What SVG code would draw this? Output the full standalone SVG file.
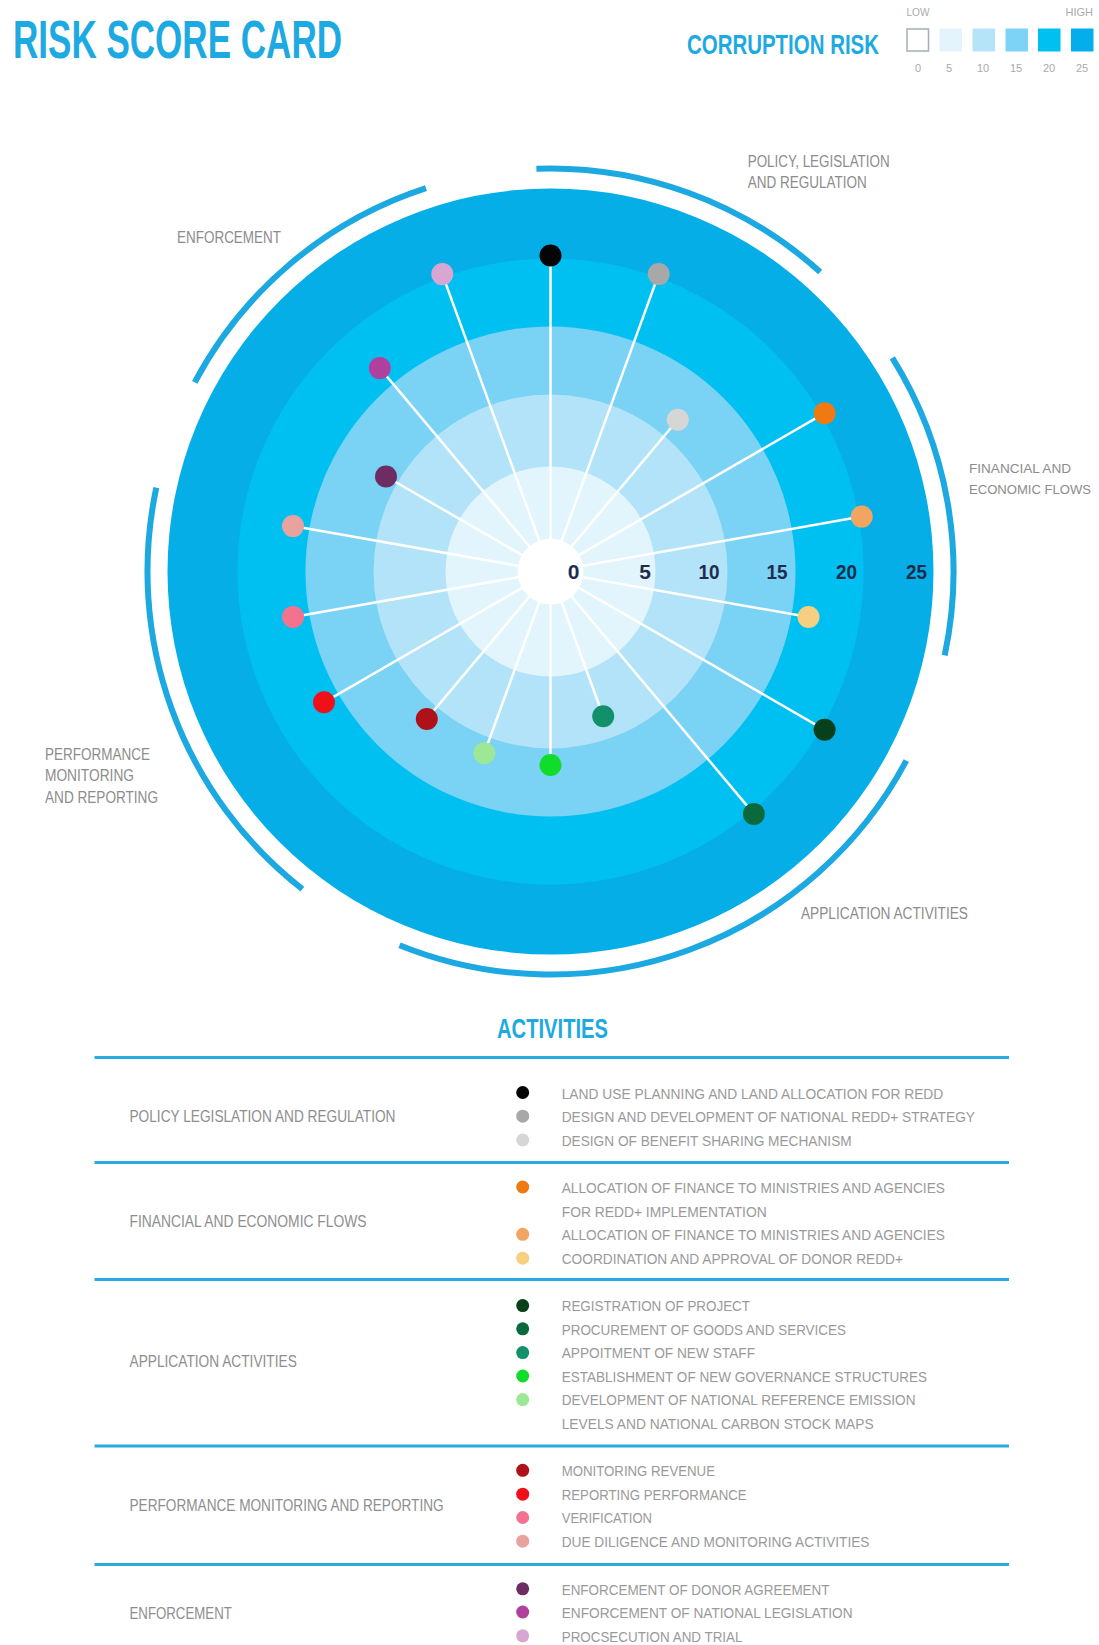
<svg xmlns="http://www.w3.org/2000/svg" width="1099" height="1645" viewBox="0 0 1099 1645">
<style>
.hd{font-family:"Liberation Sans Narrow","Liberation Sans",sans-serif;font-weight:bold;fill:#1DA9E1}
.cat{font-family:"Liberation Sans Narrow","Liberation Sans",sans-serif;font-size:16px;fill:#8C8C8C}
.cat2{font-family:"Liberation Sans Narrow","Liberation Sans",sans-serif;font-size:13.5px;fill:#8C8C8C}
.ax{font-family:"Liberation Sans Narrow","Liberation Sans",sans-serif;font-weight:bold;font-size:21px;fill:#1E2D4D;text-anchor:middle}
.lg{font-family:"Liberation Sans Narrow","Liberation Sans",sans-serif;font-size:11px;fill:#AAAAAA}
.row{font-family:"Liberation Sans Narrow","Liberation Sans",sans-serif;font-size:17px;fill:#8E8E8E}
.it{font-family:"Liberation Sans Narrow","Liberation Sans",sans-serif;font-size:15.5px;fill:#9A9A9A}
.arc{fill:none;stroke:#1CA8E0;stroke-width:6}
.spoke{stroke:#FFFFFF;stroke-width:2.5}
.rule{stroke:#29ABE2;stroke-width:3}
</style>
<rect width="1099" height="1645" fill="#FFFFFF"/>

<g id="header">
<text class="hd" x="13" y="58" font-size="53" textLength="329" lengthAdjust="spacingAndGlyphs">RISK SCORE CARD</text>
<text class="hd" x="687" y="53.5" font-size="28" textLength="192" lengthAdjust="spacingAndGlyphs">CORRUPTION RISK</text>
</g>

<g id="legend">
<text class="lg" x="906.5" y="16" textLength="23" lengthAdjust="spacingAndGlyphs">LOW</text>
<text class="lg" x="1093" y="16" text-anchor="end">HIGH</text>
<rect x="907" y="29" width="21.5" height="22" fill="#FFFFFF" stroke="#A5AEB5" stroke-width="1.5"/>
<rect x="939.5" y="28.5" width="22.5" height="23" fill="#E3F4FC"/>
<rect x="972.5" y="28.5" width="22.5" height="23" fill="#B5E3F8"/>
<rect x="1005.5" y="28.5" width="22.5" height="23" fill="#7DD3F5"/>
<rect x="1038" y="28.5" width="22.5" height="23" fill="#00C0F2"/>
<rect x="1071" y="28.5" width="22.5" height="23" fill="#03AEEA"/>
<text class="lg" x="918" y="72" text-anchor="middle">0</text>
<text class="lg" x="949" y="72" text-anchor="middle">5</text>
<text class="lg" x="983" y="72" text-anchor="middle">10</text>
<text class="lg" x="1016" y="72" text-anchor="middle">15</text>
<text class="lg" x="1049" y="72" text-anchor="middle">20</text>
<text class="lg" x="1082" y="72" text-anchor="middle">25</text>
</g>

<g id="rings">
<circle cx="550.5" cy="571.5" r="383" fill="#06AEE8"/>
<circle cx="550.5" cy="571.5" r="313" fill="#00C0F2"/>
<circle cx="550.5" cy="571.5" r="245" fill="#7AD2F4"/>
<circle cx="550.5" cy="571.5" r="177" fill="#B3E3F8"/>
<circle cx="550.5" cy="571.5" r="105" fill="#E2F4FC"/>
</g>

<g id="category-arcs">
<path id="arc-policy" class="arc" d="M536.4 168.7 A403 403 0 0 1 820.2 272.0"/>
<path id="arc-financial" class="arc" d="M892.3 357.9 A403 403 0 0 1 944.7 655.3"/>
<path id="arc-application" class="arc" d="M906.3 760.7 A403 403 0 0 1 399.5 945.2"/>
<path id="arc-performance" class="arc" d="M302.4 889.1 A403 403 0 0 1 156.3 487.7"/>
<path id="arc-enforcement" class="arc" d="M194.7 382.3 A403 403 0 0 1 426.0 188.2"/>
</g>

<g id="connectors">
<line class="spoke" x1="550.5" y1="571.5" x2="550.5" y2="255.5"/>
<line class="spoke" x1="550.5" y1="571.5" x2="658.7" y2="274.1"/>
<line class="spoke" x1="550.5" y1="571.5" x2="677.8" y2="419.8"/>
<line class="spoke" x1="550.5" y1="571.5" x2="824.6" y2="413.2"/>
<line class="spoke" x1="550.5" y1="571.5" x2="861.7" y2="516.6"/>
<line class="spoke" x1="550.5" y1="571.5" x2="808.5" y2="617.0"/>
<line class="spoke" x1="550.5" y1="571.5" x2="824.6" y2="729.8"/>
<line class="spoke" x1="550.5" y1="571.5" x2="753.9" y2="813.9"/>
<line class="spoke" x1="550.5" y1="571.5" x2="603.2" y2="716.2"/>
<line class="spoke" x1="550.5" y1="571.5" x2="550.5" y2="765.0"/>
<line class="spoke" x1="550.5" y1="571.5" x2="484.3" y2="753.3"/>
<line class="spoke" x1="550.5" y1="571.5" x2="426.8" y2="719.0"/>
<line class="spoke" x1="550.5" y1="571.5" x2="324.0" y2="702.3"/>
<line class="spoke" x1="550.5" y1="571.5" x2="293.0" y2="616.9"/>
<line class="spoke" x1="550.5" y1="571.5" x2="293.0" y2="526.1"/>
<line class="spoke" x1="550.5" y1="571.5" x2="386.0" y2="476.5"/>
<line class="spoke" x1="550.5" y1="571.5" x2="379.8" y2="368.1"/>
<line class="spoke" x1="550.5" y1="571.5" x2="442.3" y2="274.1"/>
</g>

<circle id="center" cx="550.5" cy="571.5" r="33" fill="#FFFFFF"/>

<g id="chart-dots">
<g id="dot-land-use"><circle cx="550.5" cy="255.5" r="11" fill="#050505"/></g>
<g id="dot-redd-strategy"><circle cx="658.7" cy="274.1" r="11" fill="#A8A8A8"/></g>
<g id="dot-benefit-sharing"><circle cx="677.8" cy="419.8" r="11" fill="#D6D6D6"/></g>
<g id="dot-finance-implementation"><circle cx="824.6" cy="413.2" r="11" fill="#F07A12"/></g>
<g id="dot-finance-agencies"><circle cx="861.7" cy="516.6" r="11" fill="#F2A560"/></g>
<g id="dot-donor-coordination"><circle cx="808.5" cy="617.0" r="11" fill="#F6D080"/></g>
<g id="dot-registration"><circle cx="824.6" cy="729.8" r="11" fill="#08401C"/></g>
<g id="dot-procurement"><circle cx="753.9" cy="813.9" r="11" fill="#0B6A3C"/></g>
<g id="dot-staff"><circle cx="603.2" cy="716.2" r="11" fill="#12906A"/></g>
<g id="dot-governance"><circle cx="550.5" cy="765.0" r="11" fill="#10DC2A"/></g>
<g id="dot-reference-emission"><circle cx="484.3" cy="753.3" r="11" fill="#9CE896"/></g>
<g id="dot-monitoring-revenue"><circle cx="426.8" cy="719.0" r="11" fill="#B0101A"/></g>
<g id="dot-reporting"><circle cx="324.0" cy="702.3" r="11" fill="#F0101A"/></g>
<g id="dot-verification"><circle cx="293.0" cy="616.9" r="11" fill="#F3738E"/></g>
<g id="dot-due-diligence"><circle cx="293.0" cy="526.1" r="11" fill="#E8A2A0"/></g>
<g id="dot-donor-agreement"><circle cx="386.0" cy="476.5" r="11" fill="#6E2D62"/></g>
<g id="dot-national-legislation"><circle cx="379.8" cy="368.1" r="11" fill="#B0409E"/></g>
<g id="dot-prosecution"><circle cx="442.3" cy="274.1" r="11" fill="#D7A6D2"/></g>
</g>

<g id="axis-labels">
<text class="ax" x="573.5" y="579">0</text>
<text class="ax" x="645" y="579">5</text>
<text class="ax" x="709" y="579" textLength="21" lengthAdjust="spacingAndGlyphs">10</text>
<text class="ax" x="777" y="579" textLength="21" lengthAdjust="spacingAndGlyphs">15</text>
<text class="ax" x="846.5" y="579" textLength="21" lengthAdjust="spacingAndGlyphs">20</text>
<text class="ax" x="916.5" y="579" textLength="21" lengthAdjust="spacingAndGlyphs">25</text>
</g>

<g id="category-labels">
<text class="cat" x="747.7" y="166.7" textLength="142" lengthAdjust="spacingAndGlyphs">POLICY, LEGISLATION</text>
<text class="cat" x="747.7" y="187.7" textLength="119" lengthAdjust="spacingAndGlyphs">AND REGULATION</text>
<text class="cat2" x="969" y="473.3" textLength="102" lengthAdjust="spacingAndGlyphs">FINANCIAL AND</text>
<text class="cat2" x="969" y="494" textLength="122" lengthAdjust="spacingAndGlyphs">ECONOMIC FLOWS</text>
<text class="cat" x="177" y="243" textLength="104" lengthAdjust="spacingAndGlyphs">ENFORCEMENT</text>
<text class="cat" x="45" y="760" textLength="105" lengthAdjust="spacingAndGlyphs">PERFORMANCE</text>
<text class="cat" x="45" y="781" textLength="89" lengthAdjust="spacingAndGlyphs">MONITORING</text>
<text class="cat" x="45" y="803" textLength="113" lengthAdjust="spacingAndGlyphs">AND REPORTING</text>
<text class="cat" x="801" y="919" textLength="167" lengthAdjust="spacingAndGlyphs">APPLICATION ACTIVITIES</text>
</g>

<g id="activities-table">
<text class="hd" x="552.5" y="1037.5" font-size="27" text-anchor="middle" textLength="111" lengthAdjust="spacingAndGlyphs">ACTIVITIES</text>
<line class="rule" x1="94.5" y1="1057.5" x2="1009" y2="1057.5"/>
<line class="rule" x1="94.5" y1="1162.5" x2="1009" y2="1162.5"/>
<line class="rule" x1="94.5" y1="1279.5" x2="1009" y2="1279.5"/>
<line class="rule" x1="94.5" y1="1446" x2="1009" y2="1446"/>
<line class="rule" x1="94.5" y1="1564.5" x2="1009" y2="1564.5"/>

<g id="row-policy">
<text class="row" x="129.5" y="1122" textLength="266" lengthAdjust="spacingAndGlyphs">POLICY LEGISLATION AND REGULATION</text>
<circle cx="522.7" cy="1092.5" r="6.5" fill="#050505"/>
<circle cx="522.7" cy="1116.2" r="6.5" fill="#A8A8A8"/>
<circle cx="522.7" cy="1140" r="6.5" fill="#D6D6D6"/>
<text class="it" x="561.7" y="1098.5" textLength="381.6" lengthAdjust="spacingAndGlyphs">LAND USE PLANNING AND LAND ALLOCATION FOR REDD</text>
<text class="it" x="561.7" y="1122" textLength="413.3" lengthAdjust="spacingAndGlyphs">DESIGN AND DEVELOPMENT OF NATIONAL REDD+ STRATEGY</text>
<text class="it" x="561.7" y="1145.7" textLength="290" lengthAdjust="spacingAndGlyphs">DESIGN OF BENEFIT SHARING MECHANISM</text>
</g>

<g id="row-financial">
<text class="row" x="129.5" y="1226.7" textLength="237" lengthAdjust="spacingAndGlyphs">FINANCIAL AND ECONOMIC FLOWS</text>
<circle cx="522.7" cy="1187" r="6.5" fill="#F07A12"/>
<circle cx="522.7" cy="1234.3" r="6.5" fill="#F2A560"/>
<circle cx="522.7" cy="1258.2" r="6.5" fill="#F6D080"/>
<text class="it" x="561.7" y="1192.8" textLength="383.3" lengthAdjust="spacingAndGlyphs">ALLOCATION OF FINANCE TO MINISTRIES AND AGENCIES</text>
<text class="it" x="561.7" y="1216.6" textLength="205" lengthAdjust="spacingAndGlyphs">FOR REDD+ IMPLEMENTATION</text>
<text class="it" x="561.7" y="1240.1" textLength="383.3" lengthAdjust="spacingAndGlyphs">ALLOCATION OF FINANCE TO MINISTRIES AND AGENCIES</text>
<text class="it" x="561.7" y="1264" textLength="341.3" lengthAdjust="spacingAndGlyphs">COORDINATION AND APPROVAL OF DONOR REDD+</text>
</g>

<g id="row-application">
<text class="row" x="129.5" y="1367.2" textLength="167.3" lengthAdjust="spacingAndGlyphs">APPLICATION ACTIVITIES</text>
<circle cx="522.7" cy="1305.6" r="6.5" fill="#08401C"/>
<circle cx="522.7" cy="1328.8" r="6.5" fill="#0B6A3C"/>
<circle cx="522.7" cy="1352.6" r="6.5" fill="#12906A"/>
<circle cx="522.7" cy="1376" r="6.5" fill="#10DC2A"/>
<circle cx="522.7" cy="1399.6" r="6.5" fill="#9CE896"/>
<text class="it" x="561.7" y="1311.4" textLength="188.3" lengthAdjust="spacingAndGlyphs">REGISTRATION OF PROJECT</text>
<text class="it" x="561.7" y="1334.6" textLength="284.3" lengthAdjust="spacingAndGlyphs">PROCUREMENT OF GOODS AND SERVICES</text>
<text class="it" x="561.7" y="1358.4" textLength="193.3" lengthAdjust="spacingAndGlyphs">APPOITMENT OF NEW STAFF</text>
<text class="it" x="561.7" y="1381.8" textLength="365.3" lengthAdjust="spacingAndGlyphs">ESTABLISHMENT OF NEW GOVERNANCE STRUCTURES</text>
<text class="it" x="561.7" y="1405.4" textLength="353.8" lengthAdjust="spacingAndGlyphs">DEVELOPMENT OF NATIONAL REFERENCE EMISSION</text>
<text class="it" x="561.7" y="1428.8" textLength="312" lengthAdjust="spacingAndGlyphs">LEVELS AND NATIONAL CARBON STOCK MAPS</text>
</g>

<g id="row-performance">
<text class="row" x="129.5" y="1510.9" textLength="314.1" lengthAdjust="spacingAndGlyphs">PERFORMANCE MONITORING AND REPORTING</text>
<circle cx="522.7" cy="1470.3" r="6.5" fill="#B0101A"/>
<circle cx="522.7" cy="1494.2" r="6.5" fill="#F0101A"/>
<circle cx="522.7" cy="1517.5" r="6.5" fill="#F3738E"/>
<circle cx="522.7" cy="1541.2" r="6.5" fill="#E8A2A0"/>
<text class="it" x="561.7" y="1476.1" textLength="153.3" lengthAdjust="spacingAndGlyphs">MONITORING REVENUE</text>
<text class="it" x="561.7" y="1500" textLength="185" lengthAdjust="spacingAndGlyphs">REPORTING PERFORMANCE</text>
<text class="it" x="561.7" y="1523.3" textLength="90.3" lengthAdjust="spacingAndGlyphs">VERIFICATION</text>
<text class="it" x="561.7" y="1547.2" textLength="307.7" lengthAdjust="spacingAndGlyphs">DUE DILIGENCE AND MONITORING ACTIVITIES</text>
</g>

<g id="row-enforcement">
<text class="row" x="129.5" y="1619" textLength="102.3" lengthAdjust="spacingAndGlyphs">ENFORCEMENT</text>
<circle cx="522.7" cy="1588.8" r="6.5" fill="#6E2D62"/>
<circle cx="522.7" cy="1612" r="6.5" fill="#B0409E"/>
<circle cx="522.7" cy="1635.8" r="6.5" fill="#D7A6D2"/>
<text class="it" x="561.7" y="1594.6" textLength="267.8" lengthAdjust="spacingAndGlyphs">ENFORCEMENT OF DONOR AGREEMENT</text>
<text class="it" x="561.7" y="1617.8" textLength="290.9" lengthAdjust="spacingAndGlyphs">ENFORCEMENT OF NATIONAL LEGISLATION</text>
<text class="it" x="561.7" y="1641.6" textLength="180.8" lengthAdjust="spacingAndGlyphs">PROCSECUTION AND TRIAL</text>
</g>
</g>
</svg>
